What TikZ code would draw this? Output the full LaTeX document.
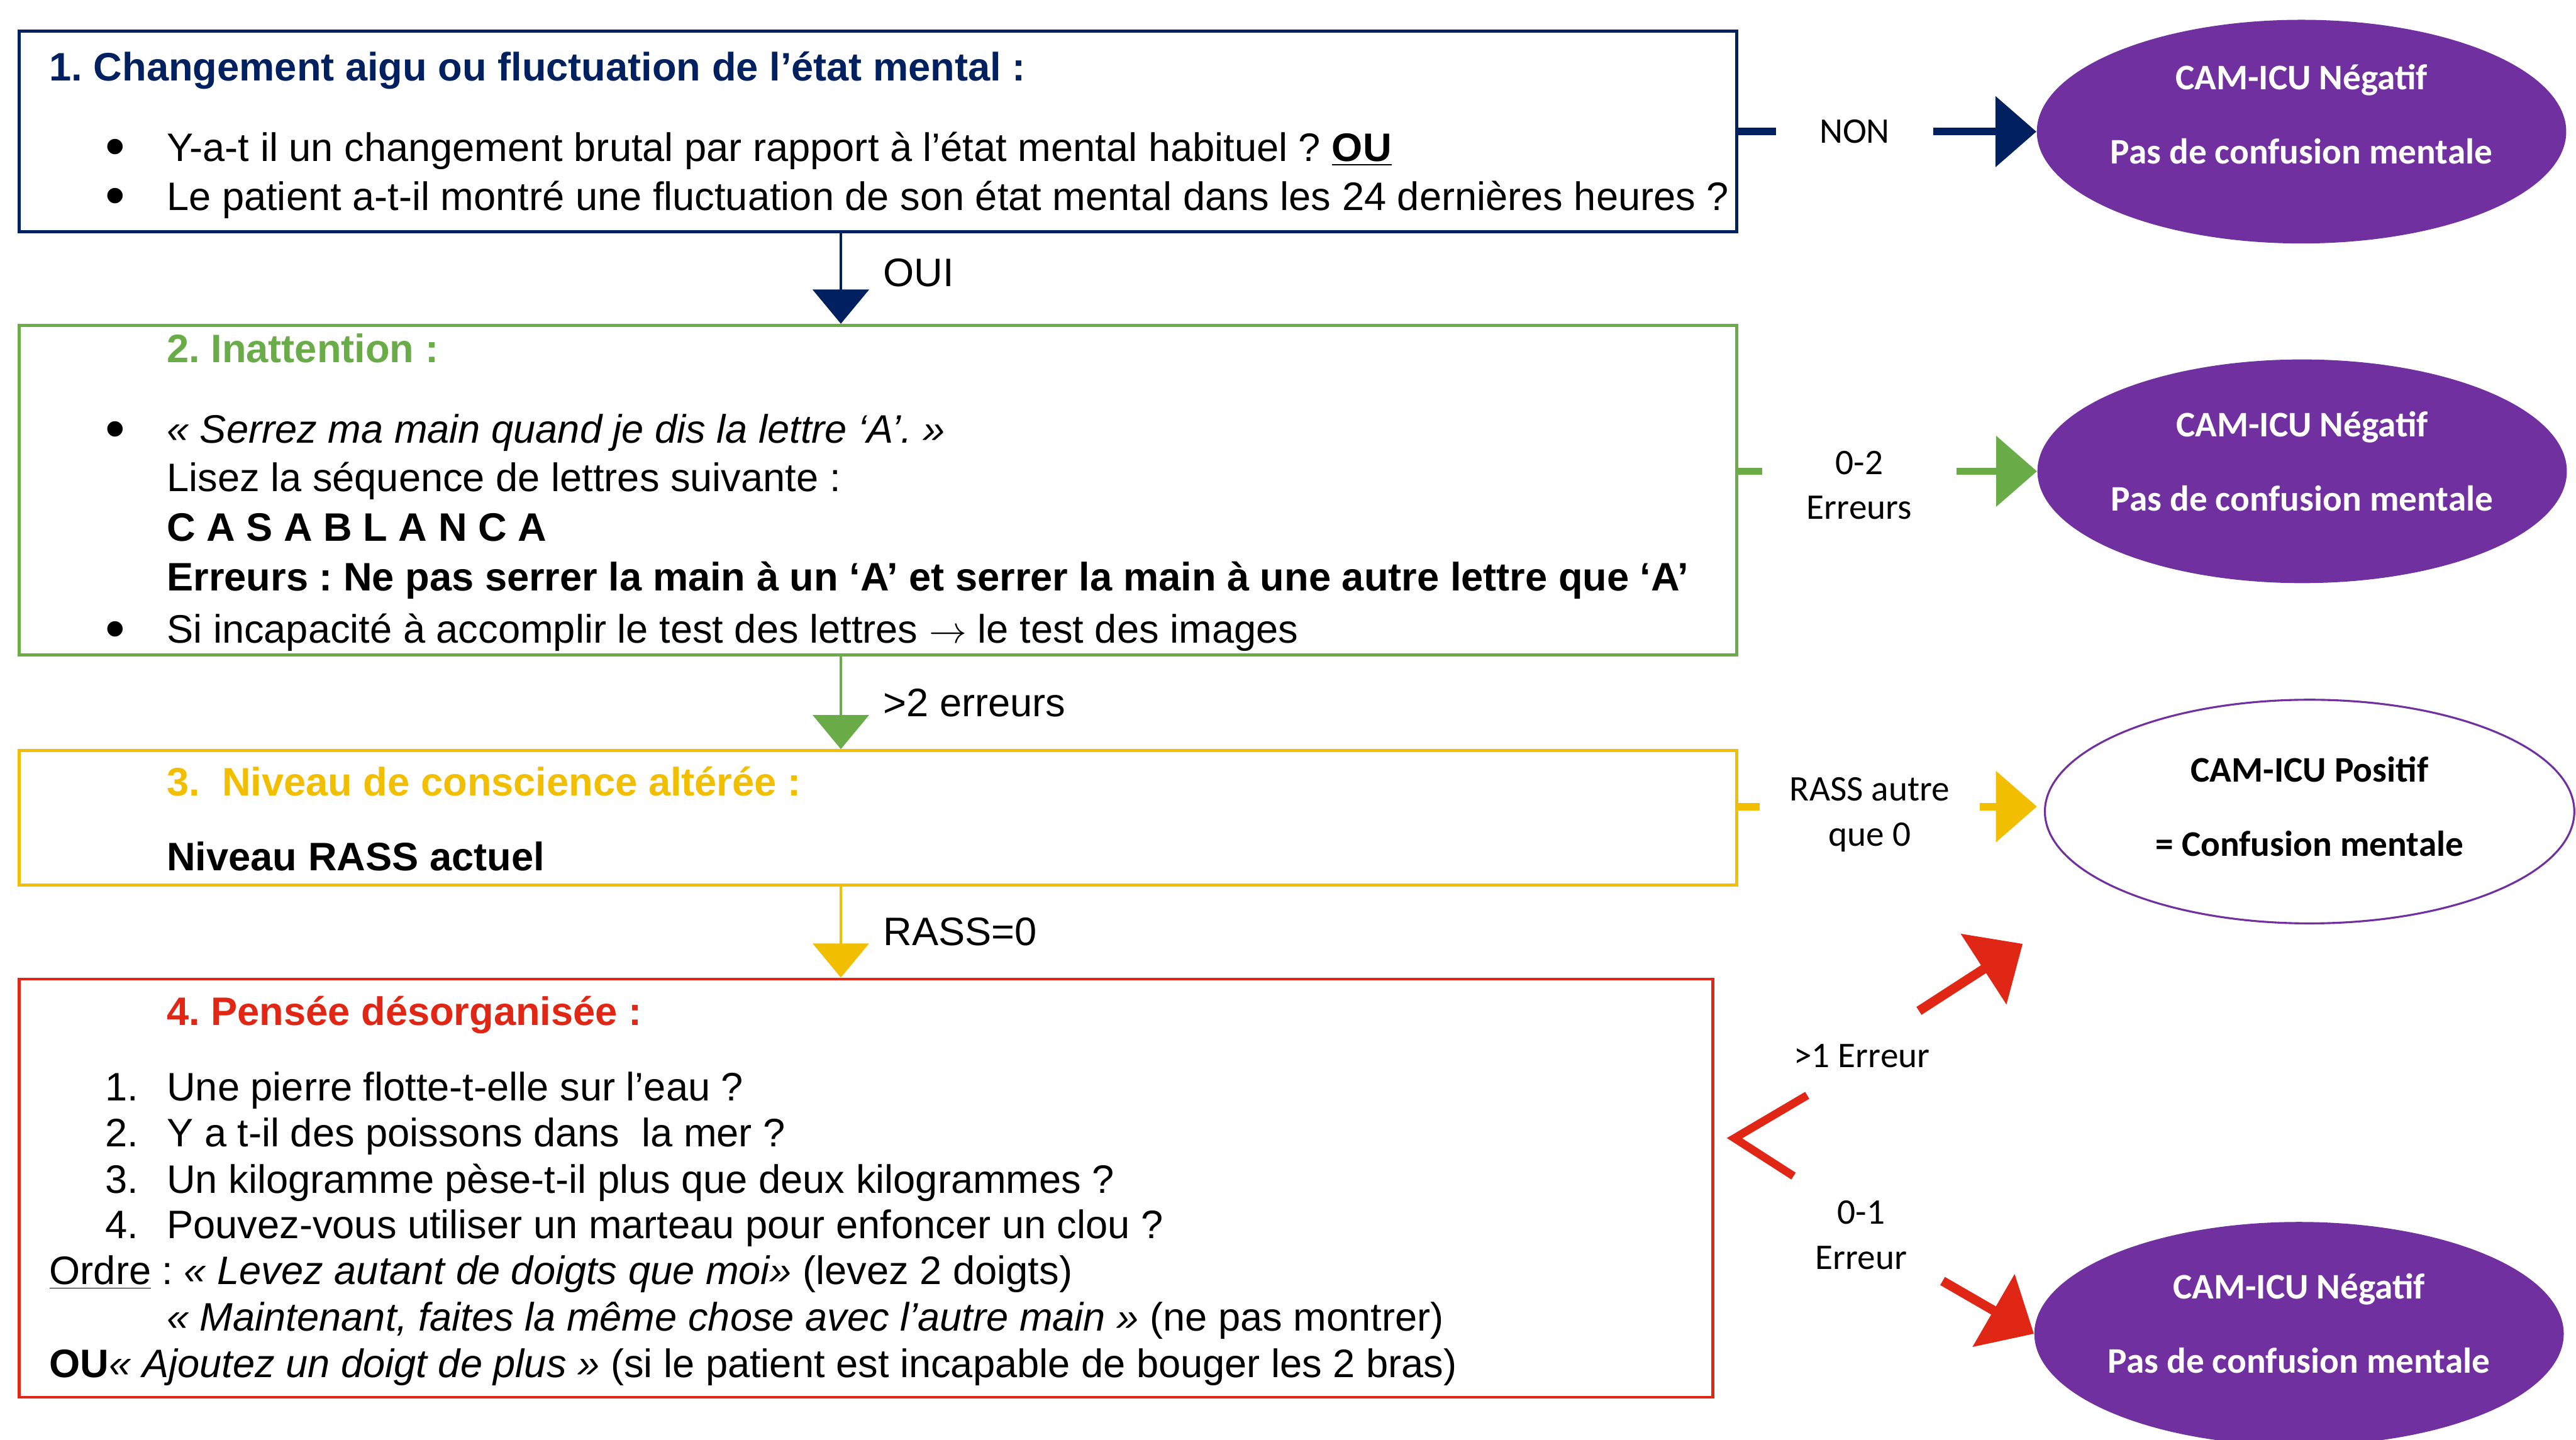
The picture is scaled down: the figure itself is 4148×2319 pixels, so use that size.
\documentclass[tikz,border=0pt]{standalone}
\usepackage{fontspec}
\setmainfont{Liberation Sans}
\newfontfamily\calib{Carlito}
\usetikzlibrary{positioning}
\usetikzlibrary{shapes.geometric,arrows.meta}
\definecolor{navy}{RGB}{0,32,96}
\definecolor{vert}{RGB}{106,172,72}
\definecolor{jaune}{RGB}{242,190,0}
\definecolor{rouge}{RGB}{224,38,20}
\definecolor{violet}{RGB}{112,48,160}
\tikzstyle{boite} = [rectangle, draw, line width=1.4pt, inner sep=0pt]
\tikzstyle{ligne} = [anchor=west, inner sep=0pt, text height=16.4pt, text depth=4pt]
\tikzstyle{titre} = [ligne, font=\bfseries]
\tikzstyle{num} = [inner sep=0pt, text height=16.4pt, text depth=4pt]
\tikzstyle{puce} = [inner sep=0pt, yshift=-0.08cm, font=\fontsize{26}{26}\selectfont]
\tikzstyle{bulle} = [ellipse, inner sep=0pt, minimum width=8.52cm, minimum height=3.6cm]
\tikzstyle{negatif} = [bulle, fill=violet]
\tikzstyle{txtbulle} = [align=center, inner sep=0pt, font=\calib\bfseries\fontsize{16.5}{17}\selectfont]
\tikzstyle{etiq} = [fill=white, align=center, text=black, inner ysep=1pt,
    font=\calib\fontsize{16.5}{20.5}\selectfont]
\tikzstyle{vfleche} = [line width=1.4pt, -{Triangle[length=0.55cm, width=0.9cm]}]
\tikzstyle{vlab} = [anchor=west, inner sep=0pt, xshift=0.66cm, text=black]
\tikzstyle{fleche} = [line width=3.4pt, -{Triangle[length=0.66cm, width=1.12cm]}]
\tikzstyle{rfleche} = [rouge, line width=4.3pt, -{Triangle[length=0.75cm, width=1.32cm]}]
\frenchspacing
\begin{document}
\begin{tikzpicture}[x=0.01cm, y=-0.01cm]
\fontsize{18.2}{22}\selectfont
\useasboundingbox (0,0) rectangle (4148,2319);

% les quatre criteres
\node (q1) [boite, draw=navy, minimum width=27.64cm, minimum height=3.23cm] at (1414,211.5) {};
\node (q2) [boite, draw=vert, minimum width=27.64cm, minimum height=5.31cm] at (1414,789.5) {};
\node (q3) [boite, draw=jaune, minimum width=27.64cm, minimum height=2.16cm] at (1414,1317) {};
\node (q4) [boite, draw=rouge, minimum width=27.25cm, minimum height=6.73cm] at (1394.5,1913.5) {};

\node (t1) [titre, text=navy] at (79,108) {1. Changement aigu ou fluctuation de l’état mental :};
\node (l11) [ligne] at (268,238) {Y-a-t il un changement brutal par rapport à l’état mental habituel ? \textbf{\underline{OU}}};
\node (l12) [ligne] at (268,317) {Le patient a-t-il montré une fluctuation de son état mental dans les 24 dernières heures ?};
\node (p11) [puce, left=0.66cm of l11] {•};
\node (p12) [puce, left=0.66cm of l12] {•};

\node (t2) [titre, text=vert] at (268,562) {2. Inattention :};
\node (l21) [ligne] at (268,692) {\itshape « Serrez ma main quand je dis la lettre ‘A’. »};
\node (l22) [ligne] at (268,770) {Lisez la séquence de lettres suivante :};
\node (l23) [ligne, font=\bfseries] at (268,850) {C A S A B L A N C A};
\node (l24) [ligne, font=\bfseries] at (268,930) {Erreurs : Ne pas serrer la main à un ‘A’ et serrer la main à une autre lettre que ‘A’};
\node (l25) [ligne] at (268,1014) {Si incapacité à accomplir le test des lettres $\rightarrow$ le test des images};
\node (p21) [puce, left=0.66cm of l21] {•};
\node (p25) [puce, left=0.66cm of l25] {•};

\node (t3) [titre, text=jaune] at (268,1260) {3.~~Niveau de conscience altérée :};
\node (l31) [ligne, font=\bfseries] at (268,1380) {Niveau RASS actuel};

\node (t4) [titre, text=rouge] at (268,1629) {4. Pensée désorganisée :};
\node (l41) [ligne] at (268,1751) {Une pierre flotte-t-elle sur l’eau ?};
\node (l42) [ligne] at (268,1825) {Y a t-il des poissons dans\ \ la mer ?};
\node (l43) [ligne] at (268,1900) {Un kilogramme pèse-t-il plus que deux kilogrammes ?};
\node (l44) [ligne] at (268,1973) {Pouvez-vous utiliser un marteau pour enfoncer un clou ?};
\node (n41) [num, left=0.44cm of l41] {1.};
\node (n42) [num, left=0.44cm of l42] {2.};
\node (n43) [num, left=0.44cm of l43] {3.};
\node (n44) [num, left=0.44cm of l44] {4.};
\node (l45) [ligne] at (79,2047) {\underline{Ordre} : \textit{« Levez autant de doigts que moi»} (levez 2 doigts)};
\node (l46) [ligne] at (268,2122) {\textit{« Maintenant, faites la même chose avec l’autre main »} (ne pas montrer)};
\node (l47) [ligne] at (79,2196) {\textbf{OU}\textit{« Ajoutez un doigt de plus »} (si le patient est incapable de bouger les 2 bras)};

% resultats
\node (neg1) [negatif] at (3706,212) {};
\node (neg2) [negatif] at (3707,759) {};
\node (pos) [bulle, draw=violet, line width=0.9pt, fill=white] at (3719,1307) {};
\node (neg4) [negatif] at (3702,2148) {};
\node (neg1txt) [txtbulle, text=white] at ([yshift=0.28cm]neg1.center) {CAM-ICU Négatif\\[17pt]Pas de confusion mentale};
\node (neg2txt) [txtbulle, text=white] at ([yshift=0.16cm]neg2.center) {CAM-ICU Négatif\\[17pt]Pas de confusion mentale};
\node (postxt) [txtbulle] at ([yshift=0.08cm]pos.center) {CAM-ICU Positif\\[17pt]= Confusion mentale};
\node (neg4txt) [txtbulle, text=white] at ([yshift=0.17cm]neg4.center) {CAM-ICU Négatif\\[17pt]Pas de confusion mentale};

% fleches verticales
\draw [vfleche, navy] ([xshift=-0.6cm]q1.south) -- node[vlab, pos=0.44] {OUI} ([xshift=-0.6cm]q1.south |- q2.north);
\draw [vfleche, vert] ([xshift=-0.6cm]q2.south) -- node[vlab] {>2 erreurs} ([xshift=-0.6cm]q2.south |- q3.north);
\draw [vfleche, jaune] ([xshift=-0.6cm]q3.south) -- node[vlab] {RASS=0} ([xshift=-0.6cm]q3.south |- q4.north);

% fleches laterales
\draw [fleche, navy] (q1.east |- neg1.west) -- node[etiq, pos=0.39, inner xsep=0.7cm] {NON} (neg1.west);
\draw [fleche, vert] (q2.east |- neg2.west) -- node[etiq, pos=0.405, inner xsep=0.72cm, yshift=-0.22cm] {0-2\\Erreurs} (neg2.west);
\draw [fleche, jaune] (q3.east |- 0,1299) -- node[etiq, pos=0.44, inner xsep=0.48cm, yshift=-0.13cm] {RASS autre\\que 0} (3280,1299);

% branche du critere 4
\coordinate (fourche) at (2793,1833);
\coordinate (haut) at (2910,1764);
\coordinate (bas) at (2888,1894);
\draw [rouge, line width=3.7pt] (haut) -- (fourche) -- (bas);
\node (plus1) [etiq, fill=none] at (2998,1701) {>1 Erreur};
\node (zero1) [etiq, fill=none] at (2997,1989) {0-1\\Erreur};
\coordinate (r1) at (3090,1628);
\coordinate (r1b) at (3257,1520);
\coordinate (r2) at (3128,2063);
\draw [rfleche] (r1) -- (r1b);
\draw [rfleche] (r2) -- (neg4.west);
\end{tikzpicture}
\end{document}
